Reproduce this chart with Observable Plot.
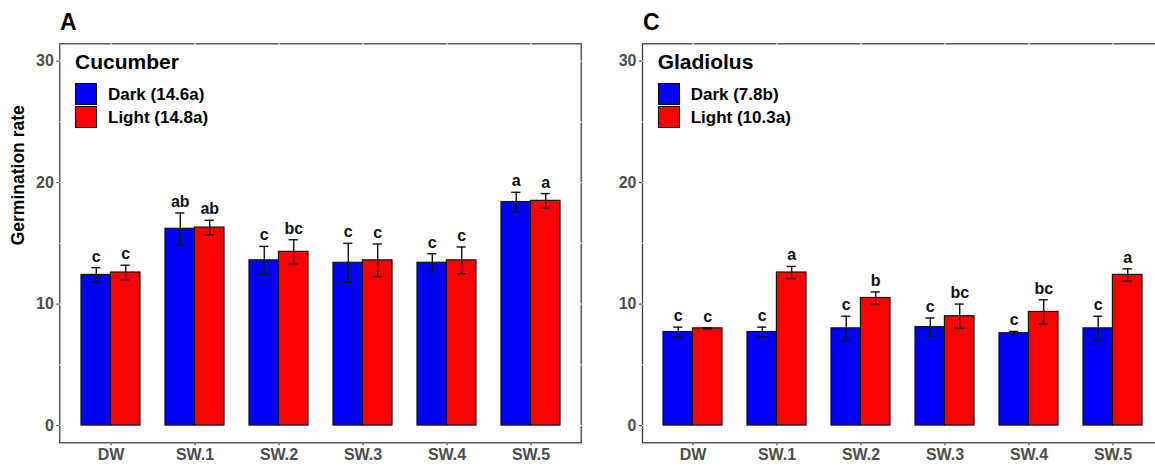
<!DOCTYPE html>
<html>
<head>
<meta charset="utf-8">
<script src="https://cdn.jsdelivr.net/npm/d3@7"></script>
<script src="https://cdn.jsdelivr.net/npm/@observablehq/plot@0.6"></script>
<style>
  html, body { margin: 0; padding: 0; background: #fff; overflow: hidden; }
  #wrap { position: relative; width: 1155px; height: 466px; overflow: hidden; font-family: "Liberation Sans", Arial, sans-serif; }
  #wrap svg { position: absolute; top: 0; font-family: "Liberation Sans", Arial, sans-serif; overflow: visible; }
  .tag { position: absolute; font-weight: bold; font-size: 23px; line-height: 23px; color: #000; }
  .ltitle { position: absolute; font-weight: bold; font-size: 21px; line-height: 21px; color: #000; }
  .key { position: absolute; width: 20px; height: 20px; border: 1.2px solid #000; }
  .klab { position: absolute; font-weight: bold; font-size: 17px; line-height: 17px; color: #000; white-space: nowrap; }
</style>
</head>
<body>
<div id="wrap"></div>
<script>
// ---- data ----
const categories = ["DW", "SW.1", "SW.2", "SW.3", "SW.4", "SW.5"];
const yTicks = [0, 10, 20, 30];
const groups = ["Dark", "Light"];
const groupColors = ["#0000ff", "#ff0000"];

const cucumberTitle = "Cucumber";
const cucumberLegend = ["Dark (14.6a)", "Light (14.8a)"];
const cucDark = [12.4, 16.2, 13.6, 13.4, 13.4, 18.4];
const cucDarkSe = [0.6, 1.3, 1.15, 1.6, 0.75, 0.8];
const cucDarkLetters = ["c", "ab", "c", "c", "c", "a"];
const cucLight = [12.6, 16.3, 14.3, 13.6, 13.6, 18.5];
const cucLightSe = [0.6, 0.6, 1.0, 1.35, 1.1, 0.6];
const cucLightLetters = ["c", "ab", "bc", "c", "c", "a"];

const gladiolusTitle = "Gladiolus";
const gladiolusLegend = ["Dark (7.8b)", "Light (10.3a)"];
const gladDark = [7.7, 7.7, 8.0, 8.1, 7.6, 8.0];
const gladDarkSe = [0.4, 0.4, 1.0, 0.75, 0.15, 1.0];
const gladDarkLetters = ["c", "c", "c", "c", "c", "c"];
const gladLight = [8.0, 12.6, 10.5, 9.0, 9.35, 12.4];
const gladLightSe = [0.05, 0.5, 0.5, 1.0, 1.0, 0.5];
const gladLightLetters = ["c", "a", "b", "bc", "bc", "a"];

const yLabel = "Germination rate";

// ---- layout ----
const H = 466, MT = 43.3, MB = 23.7;
const frameW = 521.4;
const step = frameW / 6.2;
const bw = 0.7 * step;
const half = bw / 2, quarter = bw / 4;
const capW = 9;

function rows(vals, ses, letters) {
  return categories.map((c, i) => ({cat: c, v: vals[i], se: ses[i], letter: letters[i]}));
}

function panel({left, ml, mr, dark, light, showYLabel}) {
  const width = ml + frameW + mr;
  const sets = [
    {data: dark, color: groupColors[0], off: -quarter, insL: 0, insR: half},
    {data: light, color: groupColors[1], off: quarter, insL: half, insR: 0}
  ];
  const marks = [
    Plot.frame({stroke: "#333", strokeWidth: 1.2}),
    Plot.ruleX(categories, {x: d => d, stroke: "#fff", strokeWidth: 1, insetTop: -1.5, insetBottom: -1.5}),
    Plot.ruleY([0, 5, 10, 15, 20, 25, 30], {y: d => d, stroke: "#fff", strokeWidth: 1, insetLeft: -1.5, insetRight: -1.5}),
    Plot.axisY({ticks: yTicks, tickSize: 3, tickPadding: 3, label: null, fontSize: 16, fontWeight: "bold", color: "#4d4d4d", stroke: "#333"}),
    Plot.axisX({tickSize: 3, tickPadding: 3, label: null, fontSize: 16, fontWeight: "bold", color: "#4d4d4d", stroke: "#333"})
  ];
  for (const s of sets) {
    marks.push(
      Plot.barY(s.data, {x: "cat", y1: 0, y2: "v", fill: s.color, stroke: "#111", strokeWidth: 1.2, insetLeft: s.insL, insetRight: s.insR}),
      Plot.ruleX(s.data, {x: "cat", y1: d => d.v - d.se, y2: d => d.v + d.se, dx: s.off, stroke: "#111", strokeWidth: 1.4}),
      Plot.tickY(s.data, {x: "cat", y: d => d.v + d.se, dx: s.off, insetLeft: (bw - capW) / 2, insetRight: (bw - capW) / 2, stroke: "#111", strokeWidth: 1.4}),
      Plot.tickY(s.data, {x: "cat", y: d => d.v - d.se, dx: s.off, insetLeft: (bw - capW) / 2, insetRight: (bw - capW) / 2, stroke: "#111", strokeWidth: 1.4}),
      Plot.text(s.data, {x: "cat", y: d => d.v + d.se, text: "letter", dx: s.off, dy: -6, lineAnchor: "bottom", fontSize: 16, fontWeight: "bold", fill: "#111"})
    );
  }
  if (showYLabel) {
    marks.push(Plot.text([yLabel], {frameAnchor: "left", text: d => d, rotate: -90, dx: -41, dy: 2, lineAnchor: "middle", fontSize: 17.5, fontWeight: "bold", fill: "#000"}));
  }
  const svg = Plot.plot({
    width, height: H,
    marginLeft: ml, marginRight: mr, marginTop: MT, marginBottom: MB,
    x: {type: "band", domain: categories, paddingInner: 0.3, paddingOuter: 0.25, axis: null},
    y: {domain: [-1.42, 31.43], axis: null},
    marks
  });
  svg.style.left = left + "px";
  return svg;
}

function overlay(wrap, {tag, tagX, title, labels, x}) {
  const t = document.createElement("div");
  t.className = "tag"; t.textContent = tag;
  t.style.left = tagX + "px"; t.style.top = "11px";
  wrap.appendChild(t);
  const lt = document.createElement("div");
  lt.className = "ltitle"; lt.textContent = title;
  lt.style.left = x + "px"; lt.style.top = "51px";
  wrap.appendChild(lt);
  labels.forEach((lab, i) => {
    const k = document.createElement("div");
    k.className = "key";
    k.style.background = groupColors[i];
    k.style.left = x + "px"; k.style.top = (83 + i * 23) + "px";
    wrap.appendChild(k);
    const l = document.createElement("div");
    l.className = "klab"; l.textContent = lab;
    l.style.left = (x + 33) + "px"; l.style.top = (86.3 + i * 22.6) + "px";
    wrap.appendChild(l);
  });
}

const wrap = document.getElementById("wrap");
wrap.appendChild(panel({
  left: 0, ml: 59.3, mr: 9.3,
  dark: rows(cucDark, cucDarkSe, cucDarkLetters),
  light: rows(cucLight, cucLightSe, cucLightLetters),
  showYLabel: true
}));
wrap.appendChild(panel({
  left: 585, ml: 57, mr: 6,
  dark: rows(gladDark, gladDarkSe, gladDarkLetters),
  light: rows(gladLight, gladLightSe, gladLightLetters),
  showYLabel: false
}));
overlay(wrap, {tag: "A", tagX: 60, title: cucumberTitle, labels: cucumberLegend, x: 75});
overlay(wrap, {tag: "C", tagX: 643, title: gladiolusTitle, labels: gladiolusLegend, x: 657.7});
</script>
</body>
</html>
